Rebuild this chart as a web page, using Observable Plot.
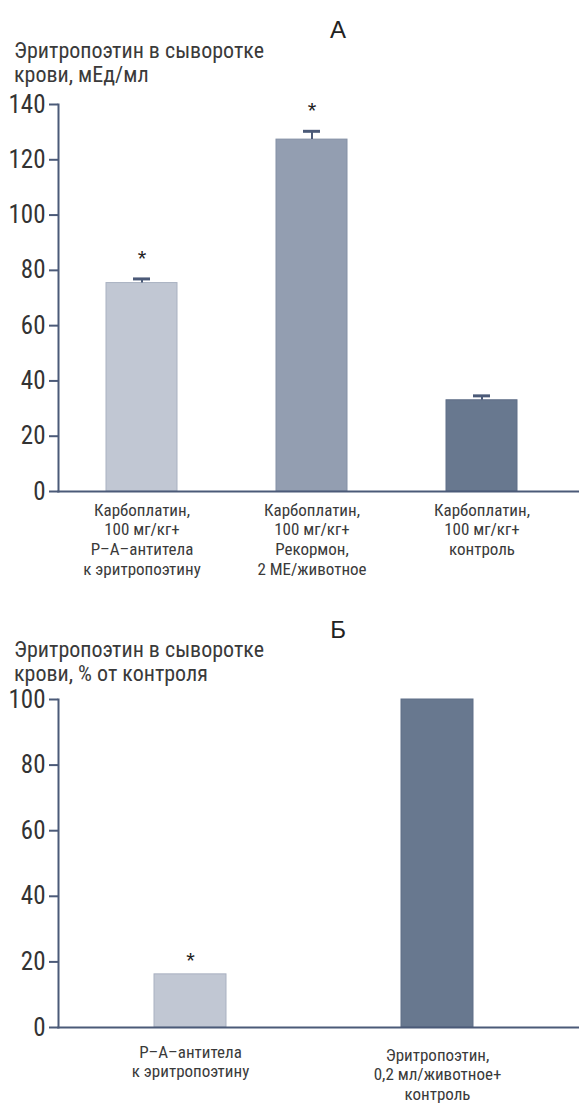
<!DOCTYPE html>
<html>
<head>
<meta charset="utf-8">
<script src="https://cdn.jsdelivr.net/npm/d3@7"></script>
<script src="https://cdn.jsdelivr.net/npm/@observablehq/plot@0.6"></script>
<style>
  html, body { margin: 0; padding: 0; background: #fff; }
  #root { position: relative; width: 579px; height: 1104px; overflow: hidden;
    font-family: "Liberation Sans Narrow", "Roboto Condensed", "DejaVu Sans Condensed", sans-serif; color: #333; }
  .ttl { position: absolute; left: 14px; font-size: 22px; line-height: 24px; white-space: nowrap; color: #3a3a3a; }
  .lab { position: absolute; font-size: 24px; color: #222; font-family: "Liberation Sans", Arial, sans-serif; transform: translateX(-50%); }
  .plot { position: absolute; left: 0; }
</style>
</head>
<body>
<div id="root">
  <div class="lab" style="left:338px; top:16px;">А</div>
  <div class="ttl" style="top:39px;">Эритропоэтин в сыворотке<br>крови, мЕд/мл</div>
  <div class="plot" id="pa" style="top:90px;"></div>
  <div class="lab" style="left:338px; top:616px;">Б</div>
  <div class="ttl" style="top:638px;">Эритропоэтин в сыворотке<br>крови, % от контроля</div>
  <div class="plot" id="pb" style="top:685px;"></div>
</div>
<script>
// Panel A data
const catsA = [
  "Карбоплатин,\n100 мг/кг+\nР–А–антитела\nк эритропоэтину",
  "Карбоплатин,\n100 мг/кг+\nРекормон,\n2 МЕ/животное",
  "Карбоплатин,\n100 мг/кг+\nконтроль"
];
const valuesA = [75.4, 127.3, 33.0];
const errorsA = [1.5, 3.0, 1.6];
const starsA = ["*", "*", ""];
const fillsA = ["#c1c7d3", "#939eb1", "#68788f"];
const strokesA = ["#a9b1c1", "#8390a5", "#5e6e87"];
const ticksA = [0, 20, 40, 60, 80, 100, 120, 140];

// Panel B data
const catsB = [
  "Р–А–антитела\nк эритропоэтину",
  "Эритропоэтин,\n0,2 мл/животное+\nконтроль"
];
const valuesB = [16.2, 100];
const starsB = ["*", ""];
const fillsB = ["#c1c7d3", "#68788f"];
const strokesB = ["#a9b1c1", "#5e6e87"];
const ticksB = [0, 20, 40, 60, 80, 100];

const AX = "#4b5a78";
const FONT = "'Liberation Sans Narrow', 'Roboto Condensed', 'DejaVu Sans Condensed', sans-serif";

const dataA = catsA.map((c, i) => ({cat: c, value: valuesA[i], err: errorsA[i], star: starsA[i], fill: fillsA[i], stroke: strokesA[i]}));
const dataB = catsB.map((c, i) => ({cat: c, value: valuesB[i], star: starsB[i], fill: fillsB[i], stroke: strokesB[i]}));

const plotA = Plot.plot({
  width: 579, height: 490,
  marginLeft: 58, marginRight: 0, marginTop: 14, marginBottom: 89,
  style: {fontFamily: FONT, background: "transparent", color: "#333"},
  x: {domain: catsA, range: [58, 566], paddingInner: 0.582, paddingOuter: 0.282, axis: null},
  y: {domain: [0, 140], axis: null},
  marks: [
    Plot.barY(dataA, {x: "cat", y: "value", fill: "fill", stroke: "stroke", strokeWidth: 1}),
    Plot.ruleX(dataA, {x: "cat", y1: "value", y2: d => d.value + d.err, stroke: AX, strokeWidth: 2}),
    Plot.tickY(dataA, {x: "cat", y: d => d.value + d.err, stroke: AX, strokeWidth: 3, insetLeft: 27, insetRight: 27}),
    Plot.text(dataA, {x: "cat", y: d => d.value + d.err, text: "star", dy: -20, fontSize: 22, fill: "#222", fontFamily: "Liberation Sans, sans-serif"}),
    Plot.frame({anchor: "left", stroke: AX, strokeWidth: 2}),
    Plot.frame({anchor: "bottom", stroke: AX, strokeWidth: 2}),
    Plot.axisY({ticks: ticksA, tickSize: 9, tickPadding: 4, stroke: AX, strokeWidth: 2, fontSize: 25, fill: "#333", label: null}),
    Plot.text(dataA, {x: "cat", text: "cat", frameAnchor: "bottom", lineAnchor: "top", dy: 10, fontSize: 17, lineHeight: 1.16, fill: "#3a3a3a"})
  ]
});
document.getElementById("pa").appendChild(plotA);

const plotB = Plot.plot({
  width: 579, height: 419,
  marginLeft: 58, marginRight: 0, marginTop: 14, marginBottom: 77,
  style: {fontFamily: FONT, background: "transparent", color: "#333"},
  x: {domain: catsB, range: [58.8, 567], paddingInner: 0.71, paddingOuter: 0.38, axis: null},
  y: {domain: [0, 100], axis: null},
  marks: [
    Plot.barY(dataB, {x: "cat", y: "value", fill: "fill", stroke: "stroke", strokeWidth: 1}),
    Plot.text(dataB, {x: "cat", y: "value", text: "star", dy: -13, fontSize: 22, fill: "#222", fontFamily: "Liberation Sans, sans-serif"}),
    Plot.frame({anchor: "left", stroke: AX, strokeWidth: 2}),
    Plot.frame({anchor: "bottom", stroke: AX, strokeWidth: 2}),
    Plot.axisY({ticks: ticksB, tickSize: 9, tickPadding: 4, stroke: AX, strokeWidth: 2, fontSize: 25, fill: "#333", label: null}),
    Plot.text(dataB.filter((d, i) => i === 0), {x: "cat", text: "cat", frameAnchor: "bottom", lineAnchor: "top", dy: 16, fontSize: 17, lineHeight: 1.16, fill: "#3a3a3a"}),
    Plot.text(dataB.filter((d, i) => i === 1), {x: "cat", text: "cat", frameAnchor: "bottom", lineAnchor: "top", dy: 19, fontSize: 17, lineHeight: 1.16, fill: "#3a3a3a"})
  ]
});
document.getElementById("pb").appendChild(plotB);
</script>
</body>
</html>
